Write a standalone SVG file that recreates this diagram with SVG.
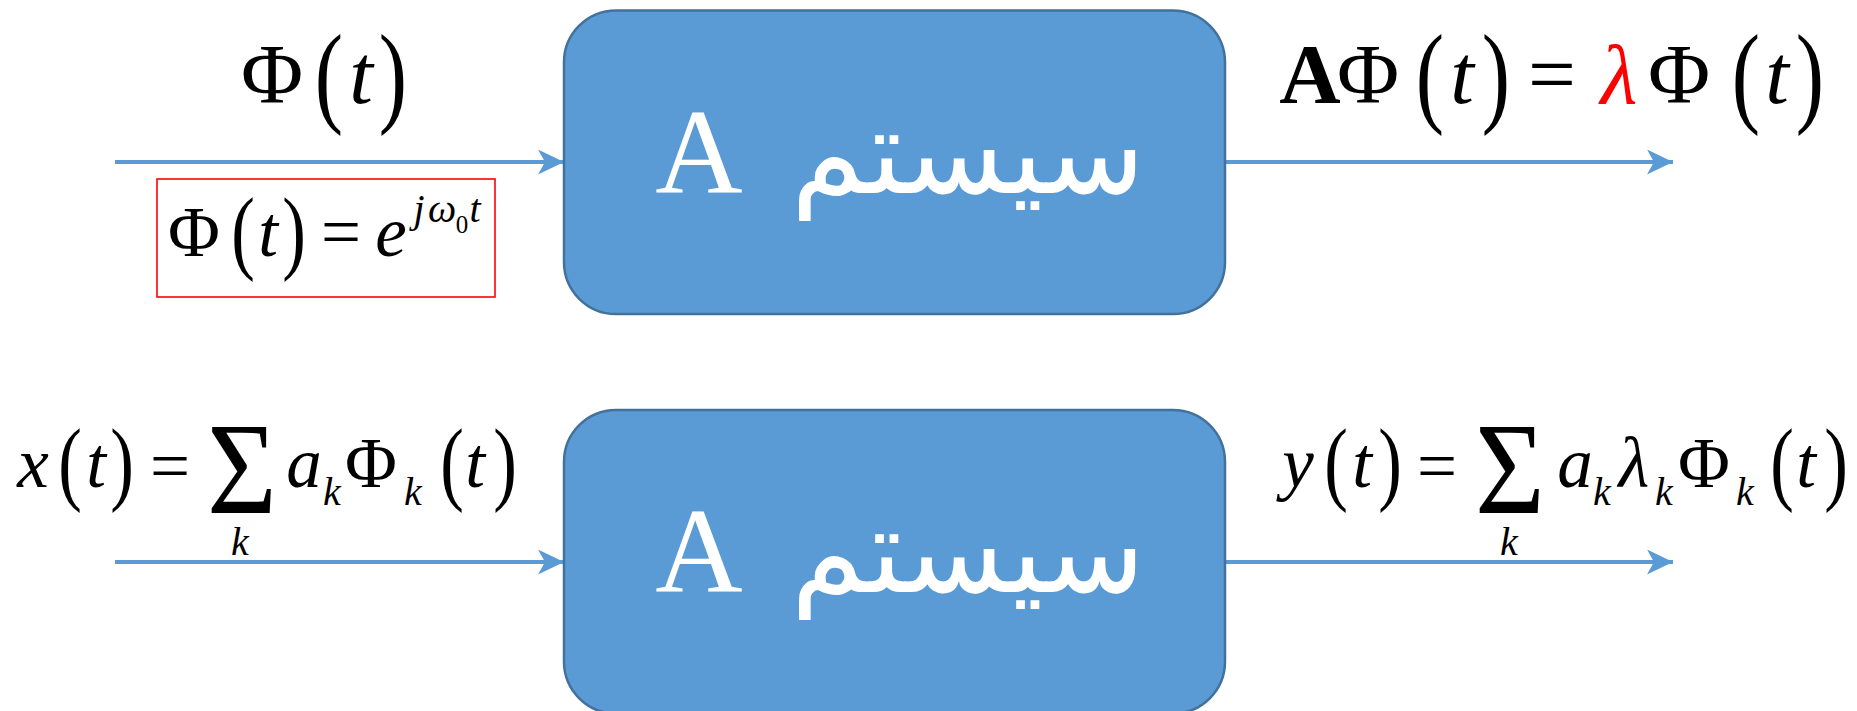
<svg xmlns="http://www.w3.org/2000/svg" width="1857" height="711" viewBox="0 0 1857 711">
  <style>
    .box{fill:#5B9BD5;stroke:#41719C;stroke-width:2.5}
    .wire{stroke:#5B9BD5;stroke-width:4;fill:none}
    .lbl{fill:#fff;font-family:'Liberation Serif',serif;font-size:121px;text-anchor:middle}
    .fa{fill:#fff;font-family:'DejaVu Sans',sans-serif;font-size:118px;text-anchor:middle}
    .m{font-family:'Liberation Serif','Times New Roman',serif;fill:#000;text-anchor:middle}
    .i{font-style:italic}
    .b{font-weight:bold}
    .red{fill:#FF0000}
    .s85{font-size:85px}
    .s71{font-size:71px}
    .s40{font-size:40px}
    .s24{font-size:25px}
    .s120{font-size:120px}
  </style>
  <defs>
    <marker id="head" viewBox="0 0 26 25" refX="26" refY="12.5" markerWidth="26" markerHeight="25" markerUnits="userSpaceOnUse" orient="auto">
      <path d="M0,0 L26,12.5 L0,25 L7,12.5 Z" fill="#5B9BD5"/>
    </marker>
  </defs>

  <!-- signal lines -->
  <g id="connectors">
    <line class="wire" x1="115" y1="162" x2="564" y2="162" marker-end="url(#head)"/>
    <line class="wire" x1="1225" y1="162" x2="1673" y2="162" marker-end="url(#head)"/>
    <line class="wire" x1="115" y1="562" x2="564" y2="562" marker-end="url(#head)"/>
    <line class="wire" x1="1225" y1="562" x2="1673" y2="562" marker-end="url(#head)"/>
  </g>

  <!-- system blocks -->
  <g id="system-top">
    <rect class="box" x="564" y="10.5" width="661" height="303.5" rx="52" ry="52"/>
    <text class="lbl" x="699" y="193">A</text>
    <text class="fa" x="968" y="193">سیستم</text>
  </g>
  <g id="system-bottom">
    <rect class="box" x="564" y="410" width="661" height="303.5" rx="52" ry="52"/>
    <text class="lbl" x="699" y="592">A</text>
    <text class="fa" x="968" y="592">سیستم</text>
  </g>

  <!-- input eigenfunction -->
  <g id="input-top">
    <text class="m s85" x="272" y="103">Φ</text>
    <text class="m s85" transform="translate(329,111.7) scale(1,1.33)">(</text>
    <text class="m s85 i" x="361" y="103">t</text>
    <text class="m s85" transform="translate(393,111.7) scale(1,1.33)">)</text>
  </g>

  <!-- definition of the eigenfunction -->
  <g id="definition">
    <rect x="157" y="179" width="338" height="118" fill="none" stroke="#FF0000" stroke-width="1.6"/>
    <text class="m s71" x="194" y="256">Φ</text>
    <text class="m s71" transform="translate(243,262.4) scale(1,1.32)">(</text>
    <text class="m s71 i" x="268" y="256">t</text>
    <text class="m s71" transform="translate(294,262.4) scale(1,1.32)">)</text>
    <text class="m s71" x="341" y="256">=</text>
    <text class="m s71 i" x="391" y="256">e</text>
    <text class="m s40 i" x="419" y="222">j</text>
    <text class="m s40 i" x="442" y="222">ω</text>
    <text class="m s24" x="462" y="233">0</text>
    <text class="m s40 i" x="475" y="222">t</text>
  </g>

  <!-- output of the top block -->
  <g id="output-top">
    <text class="m s85 b" x="1310" y="103">A</text>
    <text class="m s85" x="1368" y="103">Φ</text>
    <text class="m s85" transform="translate(1430,111.7) scale(1,1.33)">(</text>
    <text class="m s85 i" x="1462" y="103">t</text>
    <text class="m s85" transform="translate(1496,111.7) scale(1,1.33)">)</text>
    <text class="m s85" x="1552" y="103">=</text>
    <text class="m s85 i red" x="1619" y="103">λ</text>
    <text class="m s85" x="1679" y="103">Φ</text>
    <text class="m s85" transform="translate(1746,111.7) scale(1,1.33)">(</text>
    <text class="m s85 i" x="1777" y="103">t</text>
    <text class="m s85" transform="translate(1810,111.7) scale(1,1.33)">)</text>
  </g>

  <!-- input series -->
  <g id="input-bottom">
    <text class="m s71 i" x="33" y="487">x</text>
    <text class="m s71" transform="translate(70,493.4) scale(1,1.32)">(</text>
    <text class="m s71 i" x="96" y="487">t</text>
    <text class="m s71" transform="translate(122,493.4) scale(1,1.32)">)</text>
    <text class="m s71" x="170" y="490">=</text>
    <text class="m s120" transform="translate(242,512.7) scale(1,1.1)">Σ</text>
    <text class="m s40 i" x="240" y="555">k</text>
    <text class="m s71 i" x="304" y="487">a</text>
    <text class="m s40 i" x="332" y="505">k</text>
    <text class="m s71" x="371" y="487">Φ</text>
    <text class="m s40 i" x="413" y="505">k</text>
    <text class="m s71" transform="translate(452,493.4) scale(1,1.32)">(</text>
    <text class="m s71 i" x="475" y="487">t</text>
    <text class="m s71" transform="translate(505,493.4) scale(1,1.32)">)</text>
  </g>

  <!-- output series -->
  <g id="output-bottom">
    <text class="m s71 i" x="1298" y="487">y</text>
    <text class="m s71" transform="translate(1336,493.4) scale(1,1.32)">(</text>
    <text class="m s71 i" x="1362" y="487">t</text>
    <text class="m s71" transform="translate(1390,493.4) scale(1,1.32)">)</text>
    <text class="m s71" x="1437" y="490">=</text>
    <text class="m s120" transform="translate(1510,512.7) scale(1,1.1)">Σ</text>
    <text class="m s40 i" x="1509" y="555">k</text>
    <text class="m s71 i" x="1575" y="487">a</text>
    <text class="m s40 i" x="1602" y="505">k</text>
    <text class="m s71 i" x="1634" y="487">λ</text>
    <text class="m s40 i" x="1664" y="505">k</text>
    <text class="m s71" x="1704" y="487">Φ</text>
    <text class="m s40 i" x="1745" y="505">k</text>
    <text class="m s71" transform="translate(1782,493.4) scale(1,1.32)">(</text>
    <text class="m s71 i" x="1806" y="487">t</text>
    <text class="m s71" transform="translate(1836,493.4) scale(1,1.32)">)</text>
  </g>
</svg>
